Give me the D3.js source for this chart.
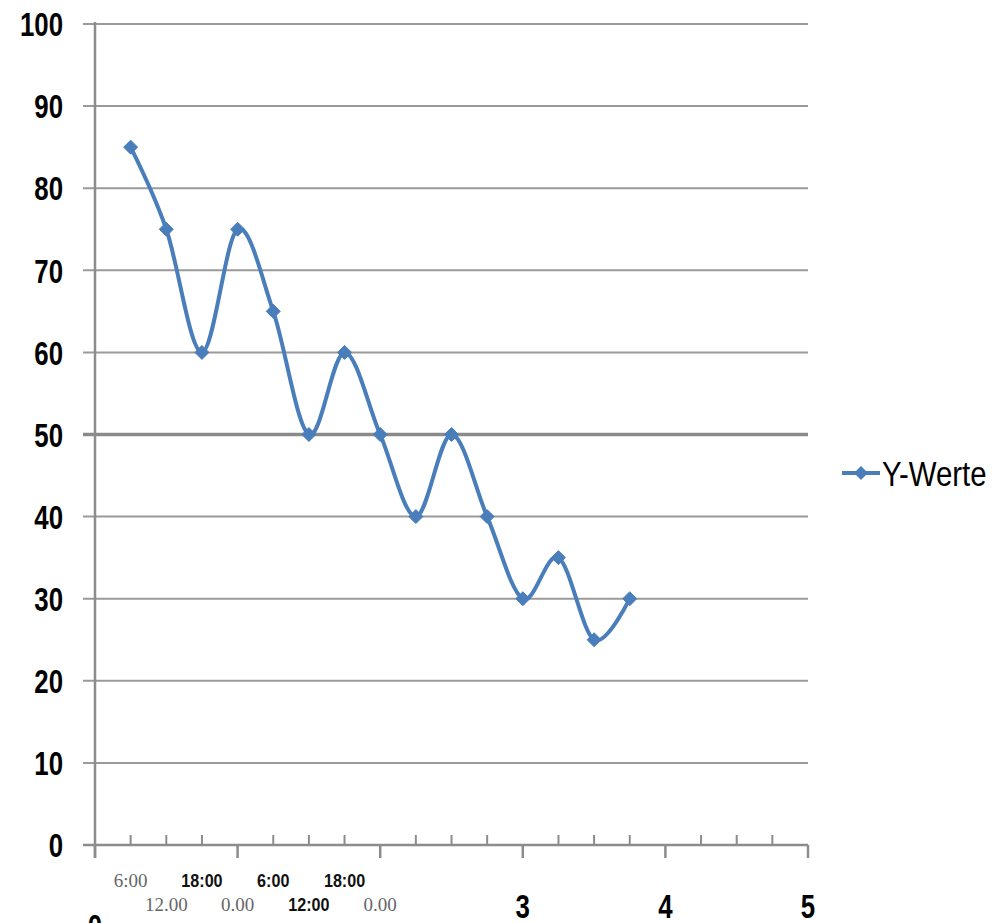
<!DOCTYPE html>
<html>
<head>
<meta charset="utf-8">
<script src="https://cdn.jsdelivr.net/npm/d3@7"></script>
<style>
  html, body { margin: 0; padding: 0; background: #fff; }
  svg { display: block; }
</style>
</head>
<body>
<svg id="chart" width="998" height="923"></svg>
<script>
// Series: day fraction on x, reading on y
const xValues = [0.25, 0.5, 0.75, 1.0, 1.25, 1.5, 1.75, 2.0, 2.25, 2.5, 2.75, 3.0, 3.25, 3.5, 3.75];
const yValues = [85, 75, 60, 75, 65, 50, 60, 50, 40, 50, 40, 30, 35, 25, 30];
const seriesName = "Y-Werte";

// Axis ticks
const yTicks = [0, 10, 20, 30, 40, 50, 60, 70, 80, 90, 100];
const xMajorTicks = [0, 1, 2, 3, 4, 5];
const xMinorTicks = [0.25, 0.5, 0.75, 1.25, 1.5, 1.75, 2.25, 2.5, 2.75, 3.25, 3.5, 3.75, 4.25, 4.5, 4.75];

// Time-of-day labels under the first two days: [position, text, row, bold]
const timePos   = [0.25, 0.5, 0.75, 1.0, 1.25, 1.5, 1.75, 2.0];
const timeText  = ["6:00", "12.00", "18:00", "0.00", "6:00", "12:00", "18:00", "0.00"];
const timeRow   = [0, 1, 0, 1, 0, 1, 0, 1];
const timeBold  = [false, false, true, false, true, true, true, false];
// Plain day numbers
const dayPos  = [0, 3, 4, 5];
const dayText = ["0", "3", "4", "5"];

const svg = d3.select("#chart");

const x = d3.scaleLinear().domain([0, 5]).range([95, 808]);
const y = d3.scaleLinear().domain([0, 100]).range([845, 24]);

const gridColor = "#9a9a9a";
const axisColor = "#8c8c8c";
const sansFont = "'Liberation Sans', Arial, sans-serif";
const narrow = 0.76; // horizontal squeeze for the condensed label face

// Horizontal gridlines (extend left past the axis as tick marks)
svg.append("g")
  .selectAll("line")
  .data(yTicks)
  .join("line")
  .attr("x1", 83)
  .attr("x2", x(5))
  .attr("y1", d => y(d))
  .attr("y2", d => y(d))
  .attr("stroke", d => d === 50 ? "#8a8a8a" : gridColor)
  .attr("stroke-width", d => d === 50 ? 3.5 : 2);

// Y axis line
svg.append("line")
  .attr("x1", x(0)).attr("x2", x(0))
  .attr("y1", y(100) - 2).attr("y2", y(0) + 13)
  .attr("stroke", axisColor).attr("stroke-width", 2.5);

// X axis line
svg.append("line")
  .attr("x1", 83).attr("x2", x(5))
  .attr("y1", y(0)).attr("y2", y(0))
  .attr("stroke", axisColor).attr("stroke-width", 2.5);

// Major ticks (downward)
svg.append("g")
  .selectAll("line")
  .data(xMajorTicks)
  .join("line")
  .attr("x1", d => x(d)).attr("x2", d => x(d))
  .attr("y1", y(0)).attr("y2", y(0) + 13)
  .attr("stroke", axisColor).attr("stroke-width", 2.5);

// Minor ticks (upward)
svg.append("g")
  .selectAll("line")
  .data(xMinorTicks)
  .join("line")
  .attr("x1", d => x(d)).attr("x2", d => x(d))
  .attr("y1", y(0)).attr("y2", y(0) - 10)
  .attr("stroke", axisColor).attr("stroke-width", 2);

// Y tick labels
svg.append("g")
  .selectAll("text")
  .data(yTicks)
  .join("text")
  .attr("transform", d => `translate(63,${y(d)}) scale(${narrow},1)`)
  .attr("dy", "0.36em")
  .attr("text-anchor", "end")
  .attr("font-family", sansFont)
  .attr("font-weight", "bold")
  .attr("font-size", 34)
  .attr("fill", "#000")
  .text(d => d);

// Time-of-day labels, staggered in two rows
svg.append("g")
  .selectAll("text")
  .data(timePos.map((p, i) => ({ p, t: timeText[i], r: timeRow[i], b: timeBold[i] })))
  .join("text")
  .attr("transform", d => `translate(${x(d.p)},${d.r === 0 ? 887 : 911}) scale(${d.b ? 0.85 : 1},1)`)
  .attr("text-anchor", "middle")
  .attr("font-family", d => d.b ? sansFont : "'Liberation Serif', serif")
  .attr("font-weight", d => d.b ? "bold" : "normal")
  .attr("font-size", d => d.b ? 19 : 19)
  .attr("fill", d => d.b ? "#111" : "#666")
  .text(d => d.t);

// Day number labels
svg.append("g")
  .selectAll("text")
  .data(dayPos.map((p, i) => ({ p, t: dayText[i] })))
  .join("text")
  .attr("transform", d => `translate(${x(d.p)},${d.p === 0 ? 938 : 918}) scale(${narrow},1)`)
  .attr("text-anchor", "middle")
  .attr("font-family", sansFont)
  .attr("font-weight", "bold")
  .attr("font-size", 34)
  .attr("fill", "#000")
  .text(d => d.t);

// Smoothed series line
const points = xValues.map((v, i) => [v, yValues[i]]);
const line = d3.line()
  .x(d => x(d[0]))
  .y(d => y(d[1]))
  .curve(d3.curveCardinal.tension(0));

const blue = "#4a7ebb";

svg.append("path")
  .datum(points)
  .attr("d", line)
  .attr("fill", "none")
  .attr("stroke", blue)
  .attr("stroke-width", 4)
  .attr("stroke-linejoin", "round");

// Diamond markers
const diamond = r => `M0,${-r}L${r},0L0,${r}L${-r},0Z`;
svg.append("g")
  .selectAll("path")
  .data(points)
  .join("path")
  .attr("transform", d => `translate(${x(d[0])},${y(d[1])})`)
  .attr("d", diamond(7))
  .attr("fill", blue)
  .attr("stroke", blue)
  .attr("stroke-width", 1);

// Legend
const legend = svg.append("g").attr("transform", "translate(842,473)");
legend.append("line")
  .attr("x1", 0).attr("x2", 38)
  .attr("y1", 0).attr("y2", 0)
  .attr("stroke", blue).attr("stroke-width", 4);
legend.append("path")
  .attr("transform", "translate(19,0)")
  .attr("d", diamond(7))
  .attr("fill", blue);
legend.append("text")
  .attr("transform", `translate(40,0) scale(0.84,1)`)
  .attr("dy", "0.36em")
  .attr("font-family", sansFont)
  .attr("font-size", 35)
  .attr("fill", "#000")
  .text(seriesName);
</script>
</body>
</html>
